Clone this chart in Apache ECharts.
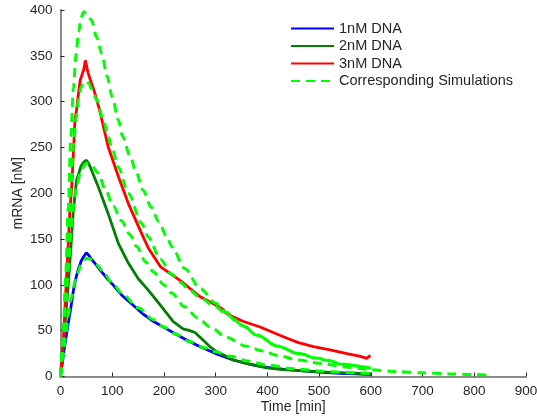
<!DOCTYPE html>
<html>
<head>
<meta charset="utf-8">
<script src="https://cdn.jsdelivr.net/npm/echarts@6/dist/echarts.min.js"></script>
<style>html,body{margin:0;padding:0;background:#fff}#c{width:537px;height:417px}</style>
</head>
<body>
<div id="c"></div>
<script>
// ---- data ----
const xTicks = [0, 100, 200, 300, 400, 500, 600, 700, 800, 900];
const yTicks = [0, 50, 100, 150, 200, 250, 300, 350, 400];
const legendNames = ['1nM DNA', '2nM DNA', '3nM DNA', 'Corresponding Simulations'];

const blueT = [0,3,6,10,15,20,25,30,35,40,45,50,52,55,60,70,80,90,100,118,140,160,180,205,221,240,270,300,334,370,399,430,463,500,540,570,600];
const blueV = [0,12,25,40,58,75,94,108,118,126,131,135,134,132,128,121,114,107,101,89,78,68,60,52,47,41,32.5,25,18,13,10,8,6.3,4.8,3.5,2.8,2.2];

const dgreenT = [0,5,10,15,20,25,31,40,45,50,55,60,73,92,112,130,150,170,190,218,237,250,260,275,290,302,320,334,360,399,430,463,500,550,600];
const dgreenV = [0,30,65,100,140,182,214,230,234,236,232,225,207,178,145,125,107,94,80,60,52,50,48,40,32,27,22,18,14,9.4,7.5,6.3,5,4,3];

const redT = [0,3,6,10,15,18,22,25,28,31,35,38,42,45,48,50,53,57,60,65,70,75,80,92,112,131,157,170,193,231,270,300,315,318,321,330,354,386,424,437,460,489,521,554,580,592,599];
const redV = [0,20,45,90,145,180,210,245,280,291,310,323,330,335,345,340,332,325,320,312,302,292,280,251,218,189,156,140,120,105,87,78,73,70,72,66,60,54,45,42,37,32.5,29,25,22,19.8,23];

const sim1T = [0,5,10,15,20,30,40,50,60,70,80,100,120,150,180,200,220,250,280,300,330,360,400,450,500,550,600];
const sim1V = [0,22,45,66,84,108,122,129,128,122,116,102,90,75,62,54,47,38,31,27,22,17,12.5,8.5,6,4.5,3.2];

const sim2T = [0,5,10,15,20,25,30,40,50,60,73,86,102,118,134,147,165,180,200,215,240,265,290,320,360,390,420,460,500,550,583,600,650,700,750,800,830];
const sim2V = [0,35,75,115,155,185,205,226,233,230,222,205,186,170,155,142,125,114,100,91,76,64,54,43,33,28,23,18,14.4,10.5,8.5,7.5,5.2,4,3,2.2,1.6];

const sim3aT = [0,5,10,15,20,25,30,35,40,45,50,60,70,80,90,100,112,120,135,145,160,175,190,205,215,240,270,300,320,350,380,420,460,500,550,583,600];
const sim3aV = [0,40,110,185,262,315,352,376,392,398,396,389,370,352,328,305,280,262,240,225,203,185,169,153,142,118,96,80,70,57,45,33,25,19.8,13.5,10.7,9.5];

const sim3bT = [0,5,10,15,20,25,30,35,40,45,50,55,60,70,83,92,100,112,131,157,170,193,215,231,250,270,300,320,350,380,420,460,500,550,600];
const sim3bV = [0,40,95,150,205,250,282,303,316,321,322,320,314,302,280,262,248,228,200,167,152,128,112,103,94,86,76,68,56,45,33,25,19,13,9];

// ---- build ----
const zip = (t, v) => t.map((x, i) => [x, v[i]]);
const font = 'Liberation Sans, Helvetica, Arial, sans-serif';
const txt = '#262626';

function measured(name, color, t, v) {
  return { name, type: 'line', data: zip(t, v), showSymbol: false, symbol: 'none',
    lineStyle: { color, width: 2.8 }, itemStyle: { color }, z: 2, animation: false };
}
function sim(t, v) {
  return { name: legendNames[3], type: 'line', data: zip(t, v), showSymbol: false, symbol: 'none',
    smooth: 0.3, smoothMonotone: 'x',
    lineStyle: { color: '#00ff00', width: 3, type: [9, 6] }, itemStyle: { color: '#00ff00' }, z: 3, animation: false };
}

const chart = echarts.init(document.getElementById('c'), null, { renderer: 'canvas' });
chart.setOption({
  animation: false,
  backgroundColor: '#ffffff',
  grid: { left: 60.5, right: 11, top: 10, bottom: 40.5, containLabel: false, outerBoundsMode: 'none' },
  legend: {
    orient: 'vertical', left: 290, top: 21, padding: 0,
    itemWidth: 43, itemHeight: 14, itemGap: 2.5,
    data: legendNames,
    itemStyle: { opacity: 0 },
    textStyle: { fontFamily: font, fontSize: 14.5, color: txt, lineHeight: 14 }
  },
  xAxis: {
    type: 'value', min: 0, max: 900, interval: 100,
    name: 'Time [min]', nameLocation: 'middle', nameGap: 23.5, nameMoveOverlap: false,
    nameTextStyle: { fontFamily: font, fontSize: 14, color: txt },
    axisLine: { show: true, lineStyle: { color: '#8a8a8a', width: 2 } },
    axisTick: { show: true, inside: true, length: 4, lineStyle: { color: '#262626', width: 1 } },
    axisLabel: { fontFamily: font, fontSize: 13.5, color: txt, margin: 8,
      formatter: v => xTicks.includes(v) ? String(v) : '' },
    splitLine: { show: false }
  },
  yAxis: {
    type: 'value', min: 0, max: 400, interval: 50,
    name: 'mRNA [nM]', nameLocation: 'middle', nameGap: 35.5, nameRotate: 90, nameMoveOverlap: false,
    nameTextStyle: { fontFamily: font, fontSize: 14, color: txt },
    axisLine: { show: true, lineStyle: { color: '#8a8a8a', width: 2 } },
    axisTick: { show: true, inside: true, length: 4, lineStyle: { color: '#262626', width: 1 } },
    axisLabel: { fontFamily: font, fontSize: 13.5, color: txt, margin: 8,
      formatter: v => yTicks.includes(v) ? String(v) : '' },
    splitLine: { show: false }
  },
  series: [
    measured(legendNames[0], '#0000ff', blueT, blueV),
    measured(legendNames[1], '#007f00', dgreenT, dgreenV),
    measured(legendNames[2], '#ff0000', redT, redV),
    sim(sim1T, sim1V),
    sim(sim2T, sim2V),
    sim(sim3bT, sim3bV),
    sim(sim3aT, sim3aV)
  ]
});
</script>
</body>
</html>
